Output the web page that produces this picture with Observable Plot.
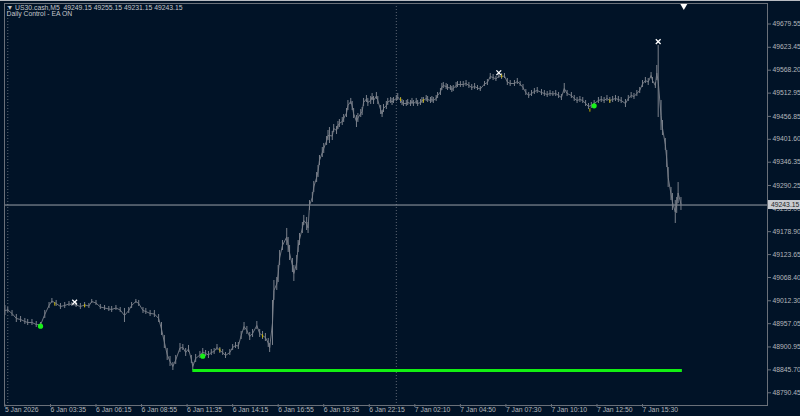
<!DOCTYPE html>
<html><head><meta charset="utf-8">
<script src="https://cdn.jsdelivr.net/npm/d3@7"></script>
<script src="https://cdn.jsdelivr.net/npm/@observablehq/plot@0.6"></script>
<style>
html,body{margin:0;padding:0;background:#011327;}
#chart{position:relative;width:800px;height:416px;overflow:hidden;}
#topline{position:absolute;left:0;top:0;width:800px;height:1px;background:#b8bcc2;}
</style></head>
<body><div id="chart"><div id="topline"></div></div>
<script>
const headerLine1 = "▼ US30.cash,M5  49249.15 49255.15 49231.15 49243.15";
const headerLine2 = "Daily Control - EA ON";

const timeTickBars = [0,32,64,96,128,160,192,224,256,288,320,352,384,416,448];
const timeLabels = ["5 Jan 2026","6 Jan 03:35","6 Jan 06:15","6 Jan 08:55","6 Jan 11:35","6 Jan 14:15","6 Jan 16:55","6 Jan 19:35","6 Jan 22:15","7 Jan 02:10","7 Jan 04:50","7 Jan 07:30","7 Jan 10:10","7 Jan 12:50","7 Jan 15:30"];
const priceTicks = [49679.55,49623.45,49568.20,49512.95,49456.85,49401.60,49346.35,49290.25,49235.00,49178.90,49123.65,49068.40,49012.30,48957.05,48900.95,48845.70,48790.45];

const bars = [0,2,5,8,11,14,16,19,22,25,
28,31,33,36,39,42,45,47,50,53,
56,59,61,64,67,70,73,75,78,81,
84,87,89,92,94,97,99,102,105,108,
110,112,114,116,118,120,123,125,127,129,
131,132,134,137,139,141,143,145,147,149,
151,153,155,158,160,162,164,166,168,170,
172,174,177,179,181,183,185,186,188,189,
191,192,193,195,198,199,200,202,203,205,
206,207,209,210,212,213,214,216,217,219,
220,221,223,224,226,227,228,230,231,233,
234,235,237,238,240,241,243,244,245,247,
248,250,251,252,254,255,257,258,259,261,
262,264,265,266,268,269,271,272,273,275,
276,278,279,280,282,283,285,286,287,289,
290,292,293,294,296,297,299,300,301,303,
304,306,307,308,310,311,313,314,315,317,
318,320,322,324,326,328,330,332,334,337,
339,341,343,345,347,349,351,353,355,358,
360,362,364,366,368,370,372,374,377,379,
381,383,385,387,389,391,393,395,398,400,
402,404,406,408,410,412,414,417,419,421,
423,425,427,429,431,433,436,438,440,442,
444,446,448,450,452,454,455,457,458,459,
461,462,464,465,466,468,469,471,472,473,475];

const highs = [49000.9,48996.1,48988.9,48979.2,48974.4,48969.6,48967.2,48967.2,48962.3,48959.9,
48988.9,49008.1,49017.8,49013.0,49005.7,49008.1,49010.6,49008.1,49008.1,49005.7,
49008.1,49005.7,49015.4,49013.0,49003.3,49000.9,48998.5,48998.5,49000.9,48996.1,
48993.7,48996.1,49008.1,49015.4,49013.0,48996.1,48993.7,48988.9,48988.9,48979.2,
48959.9,48928.6,48897.2,48878.0,48863.5,48880.4,48909.3,48906.9,48897.2,48904.5,
48880.4,48863.5,48882.8,48890.0,48897.2,48892.4,48890.0,48894.8,48897.2,48906.9,
48899.7,48894.8,48887.6,48894.8,48906.9,48911.7,48911.7,48938.2,48959.9,48950.3,
48935.8,48943.0,48962.3,48943.0,48938.2,48933.4,48921.4,48909.3,49013.0,49061.2,
49068.4,49097.3,49133.5,49157.6,49186.6,49164.9,49145.6,49114.2,49097.3,49121.5,
49157.6,49174.5,49201.0,49218.0,49213.1,49201.0,49254.0,49273.3,49299.9,49321.5,
49338.4,49362.5,49381.8,49391.5,49408.3,49422.8,49430.0,49420.4,49437.3,49432.4,
49444.5,49449.3,49454.1,49461.4,49475.8,49495.1,49500.1,49492.7,49475.8,49459.0,
49463.8,49473.4,49478.2,49500.1,49507.2,49500.1,49504.8,49512.0,49504.8,49514.4,
49504.8,49483.1,49471.0,49485.5,49492.7,49500.1,49502.4,49500.1,49502.4,49507.2,
49512.0,49502.4,49497.5,49495.1,49495.1,49497.5,49495.1,49500.1,49495.1,49500.1,
49495.1,49497.5,49502.4,49502.4,49507.2,49504.8,49502.4,49504.8,49502.4,49507.2,
49514.4,49524.1,49536.1,49538.5,49536.1,49533.7,49531.3,49528.9,49531.3,49538.5,
49540.9,49540.9,49540.9,49543.3,49538.5,49533.7,49536.1,49531.3,49528.9,49540.9,
49545.7,49560.2,49557.8,49553.0,49560.2,49560.2,49560.2,49548.2,49543.3,49543.3,
49548.2,49540.9,49533.7,49521.6,49514.4,49519.2,49524.1,49526.5,49521.6,49519.2,
49516.8,49519.2,49516.8,49519.2,49514.4,49509.6,49536.1,49519.2,49514.4,49507.2,
49502.4,49504.8,49502.4,49495.1,49487.9,49490.3,49495.1,49502.4,49504.8,49502.4,
49507.2,49502.4,49504.8,49507.2,49504.8,49502.4,49497.5,49507.2,49514.4,49512.0,
49519.2,49526.5,49543.3,49550.6,49548.2,49562.6,49550.6,49538.5,49579.5,49627.7,
49495.1,49446.9,49403.5,49374.6,49333.6,49285.4,49270.9,49254.0,49261.3,49297.4,49261.3];

const lows = [48976.8,48984.1,48974.4,48959.9,48959.9,48955.1,48952.7,48952.7,48947.9,48947.9,
48969.6,48993.7,49005.7,48998.5,48991.3,48993.7,48998.5,48998.5,48996.1,48991.3,
48996.1,48993.7,49005.7,49000.9,48991.3,48988.9,48986.5,48984.1,48988.9,48984.1,
48959.9,48981.6,48993.7,49005.7,48998.5,48981.6,48979.2,48974.4,48972.0,48959.9,
48928.6,48897.2,48868.3,48853.9,48844.2,48858.7,48887.6,48892.4,48878.0,48887.6,
48861.1,48844.2,48863.5,48873.1,48880.4,48878.0,48873.1,48880.4,48882.8,48892.4,
48885.2,48880.4,48873.1,48880.4,48892.4,48897.2,48894.8,48918.9,48940.6,48931.0,
48916.5,48923.8,48943.0,48923.8,48918.9,48914.1,48899.7,48887.6,48904.5,49013.0,
49037.1,49056.4,49097.3,49133.5,49145.6,49128.7,49109.4,49080.3,49058.8,49085.3,
49128.7,49145.6,49174.5,49193.8,49181.7,49174.5,49230.0,49249.2,49273.3,49297.4,
49309.5,49338.4,49357.7,49367.3,49386.6,49398.7,49391.5,49398.7,49418.0,49413.2,
49425.2,49430.0,49434.9,49442.1,49454.1,49471.0,49485.5,49471.0,49451.7,49430.0,
49442.1,49454.1,49459.0,49480.7,49490.3,49480.7,49485.5,49495.1,49485.5,49497.5,
49485.5,49461.4,49454.1,49466.2,49473.4,49483.1,49487.9,49483.1,49487.9,49492.7,
49495.1,49487.9,49483.1,49480.7,49480.7,49483.1,49480.7,49485.5,49480.7,49485.5,
49480.7,49483.1,49487.9,49487.9,49492.7,49490.3,49487.9,49490.3,49487.9,49492.7,
49500.1,49507.2,49519.2,49524.1,49521.6,49519.2,49519.2,49514.4,49516.8,49524.1,
49526.5,49526.5,49526.5,49528.9,49524.1,49519.2,49521.6,49519.2,49516.8,49528.9,
49531.3,49545.7,49543.3,49540.9,49548.2,49545.7,49548.2,49531.3,49528.9,49528.9,
49533.7,49528.9,49519.2,49507.2,49500.1,49504.8,49509.6,49512.0,49507.2,49504.8,
49502.4,49504.8,49504.8,49504.8,49500.1,49495.1,49512.0,49504.8,49500.1,49492.7,
49487.9,49490.3,49487.9,49480.7,49473.4,49475.8,49480.7,49487.9,49490.3,49487.9,
49492.7,49487.9,49490.3,49492.7,49490.3,49487.9,49478.2,49492.7,49500.1,49497.5,
49504.8,49512.0,49526.5,49536.1,49531.3,49548.2,49536.1,49524.1,49543.3,49454.1,
49422.8,49410.7,49374.6,49333.6,49285.4,49254.0,49230.0,49198.6,49222.9,49246.8,49230.0];

const daySeparatorBars = [2, 275];
const bidPrice = 49243.15;
const supportPrice = 48844.2;
const supportFromBar = 132;
const supportToBar = 476;
const signalBars = [25, 139, 414];
const signalPrices = [48951.0, 48878.7, 49482.3];
const crossBars = [49, 347, 459];
const crossPrices = [49009, 49562, 49637];
const dojiBars = [35, 56, 151, 181, 278, 294, 349, 411, 425];
const dojiPrices = [49003.3, 48999.2, 48892.4, 48926.2, 49496.8, 49493.4, 49553.0, 49471.0, 49492.7];
const shiftBar = 477;

const candles = bars.map((b, i) => ({bar: b, high: highs[i], low: lows[i], mid: (highs[i] + lows[i]) / 2}));
const signals = signalBars.map((b, i) => ({bar: b, price: signalPrices[i]}));
const crosses = crossBars.map((b, i) => ({bar: b, price: crossPrices[i]}));
const dojis = dojiBars.map((b, i) => ({bar: b, lo: dojiPrices[i] - 4, hi: dojiPrices[i] + 4}));
const support = [{price: supportPrice, from: supportFromBar, to: supportToBar}];

const FONT = "Liberation Sans, Arial, sans-serif";
const FS = 6.8;
const TXT = "#b3b6bb";

function priceBox(index, scales, values, dimensions) {
  const y = scales.y(bidPrice);
  const x0 = dimensions.width - dimensions.marginRight;
  const g = d3.create("svg:g");
  g.append("rect").attr("x", x0 + 1).attr("y", y - 4.5).attr("width", 33).attr("height", 9).attr("fill", "#c9ccd1");
  g.append("text").attr("x", x0 + 4).attr("y", y).attr("dy", "0.36em").attr("text-anchor", "start")
    .attr("font-family", FONT).attr("font-size", FS).attr("fill", "#1b1f26").text(bidPrice.toFixed(2));
  return g.node();
}

const chart = Plot.plot({
  width: 800,
  height: 416,
  marginTop: 3,
  marginBottom: 11,
  marginLeft: 4,
  marginRight: 33,
  style: {background: "#011327", color: TXT, fontFamily: FONT, fontSize: FS + "px"},
  x: {type: "linear", domain: [-0.3, 535.8], axis: null},
  y: {type: "linear", domain: [48759.8, 49729], axis: null},
  marks: [
    Plot.ruleX(daySeparatorBars, {x: d => d, stroke: "#5c6571", strokeDasharray: "1,2"}),
    Plot.ruleY([bidPrice], {y: d => d, stroke: "#9aa0a8", strokeWidth: 1}),
    Plot.line(candles, {x: "bar", y: "mid", stroke: "#6f7580", strokeWidth: 1}),
    Plot.ruleX(candles, {x: "bar", y1: "low", y2: "high", stroke: "#7b818b", strokeWidth: 1}),
    Plot.ruleX(dojis, {x: "bar", y1: "lo", y2: "hi", stroke: "#c4b000", strokeWidth: 1}),
    Plot.ruleY(support, {y: "price", x1: "from", x2: "to", stroke: "#12f012", strokeWidth: 3}),
    Plot.dot(signals, {x: "bar", y: "price", r: 2.6, fill: "#18f018", stroke: "none"}),
    Plot.dot(crosses, {x: "bar", y: "price", symbol: "times", r: 2.3, stroke: "#ffffff", strokeWidth: 1.3}),
    Plot.dot([shiftBar], {x: d => d, frameAnchor: "top", dy: 2.2, symbol: "triangle", rotate: 180, r: 2.8, fill: "#ffffff", stroke: "none"}),
    Plot.frame({stroke: "#6a7079"}),
    Plot.axisX(timeTickBars, {anchor: "bottom", tickSize: 3, tickPadding: 0, dy: -1, textAnchor: "start",
      tickFormat: d => timeLabels[timeTickBars.indexOf(d)], stroke: "#6a7079", fill: TXT, fontSize: FS, fontFamily: FONT}),
    Plot.axisY(priceTicks, {anchor: "right", tickSize: 3, tickPadding: 2, textAnchor: "start",
      tickFormat: d => d.toFixed(2), stroke: "#6a7079", fill: TXT, fontSize: FS, fontFamily: FONT}),
    priceBox,
    Plot.text([headerLine1], {text: d => d, frameAnchor: "top-left", dx: 2, dy: 4.5, lineAnchor: "middle", textAnchor: "start", fill: "#c3c6cb", fontSize: FS, fontFamily: FONT}),
    Plot.text([headerLine2], {text: d => d, frameAnchor: "top-left", dx: 2, dy: 10.5, lineAnchor: "middle", textAnchor: "start", fill: "#c3c6cb", fontSize: FS, fontFamily: FONT})
  ]
});
document.getElementById("chart").appendChild(chart);
</script>
</body></html>
